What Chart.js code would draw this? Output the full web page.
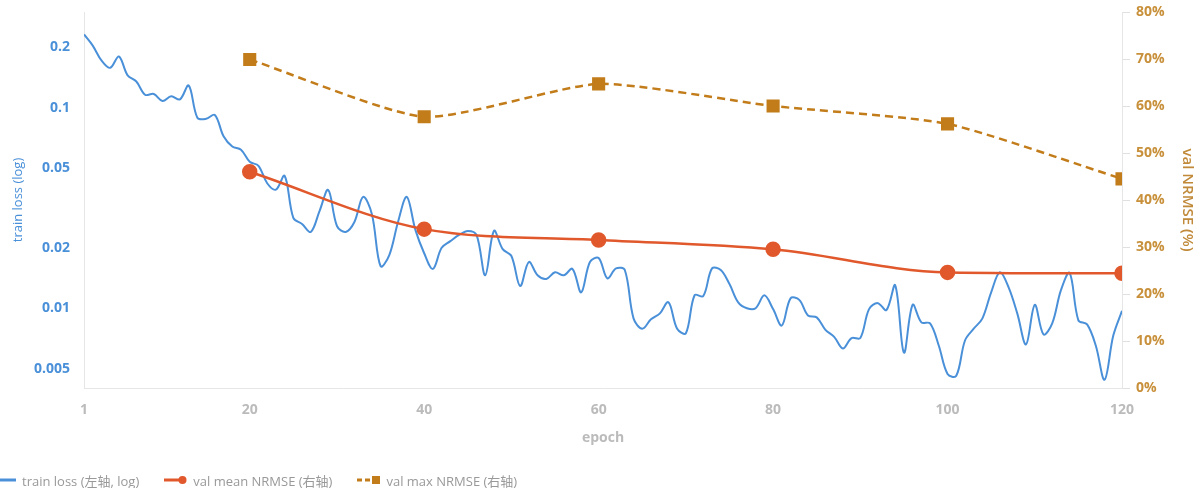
<!DOCTYPE html>
<html>
<head>
<meta charset="utf-8">
<script src="https://cdn.jsdelivr.net/npm/chart.js@4.4.1/dist/chart.umd.min.js"></script>
<style>
  html, body { margin: 0; padding: 0; background: #fff; overflow: hidden; }
  #wrap { position: relative; width: 1200px; height: 488px; }
  #legend {
    position: absolute; left: -7px; top: 470px; height: 20px;
    display: flex; align-items: center; white-space: nowrap;
    font: 13px "Open Sans", "Noto Sans CJK SC", sans-serif; color: #999;
  }
  #legend .item { display: flex; align-items: center; margin-right: 25px; }
  #legend svg { margin-right: 6px; }
</style>
</head>
<body>
<div id="wrap">
  <canvas id="chart" width="1200" height="488"></canvas>
  <div id="legend"></div>
</div>
<script>
(function () {
    "use strict";

    // train loss per epoch, epoch 1..120 (left axis, log)
    const trainLoss = [
        0.232, 0.204, 0.172, 0.158, 0.180, 0.145, 0.135, 0.116, 0.117, 0.108,
        0.114, 0.110, 0.129, 0.089, 0.088, 0.092, 0.072, 0.064, 0.0617, 0.0537,
        0.0513, 0.042, 0.039, 0.0457, 0.0282, 0.0263, 0.024, 0.0305, 0.0389, 0.0257,
        0.024, 0.0269, 0.0359, 0.0295, 0.0162, 0.0184, 0.0269, 0.0359, 0.0245, 0.0188,
        0.0157, 0.020, 0.0216, 0.0232, 0.0243, 0.0232, 0.0146, 0.0243, 0.0197, 0.0182,
        0.0129, 0.017, 0.0146, 0.014, 0.0151, 0.0146, 0.0157, 0.012, 0.017, 0.0178,
        0.0141, 0.0158, 0.0155, 0.0089, 0.0079, 0.0088, 0.0094, 0.0107, 0.0079, 0.0075,
        0.0116, 0.0115, 0.0158, 0.0155, 0.0132, 0.0107, 0.010, 0.010, 0.0116, 0.0099,
        0.0082, 0.0112, 0.011, 0.0092, 0.009, 0.0078, 0.0072, 0.0063, 0.0071, 0.0071,
        0.0099, 0.0106, 0.0098, 0.013, 0.006, 0.0104, 0.0085, 0.0084, 0.0065, 0.0047,
        0.0046, 0.0069, 0.0079, 0.0089, 0.012, 0.0151, 0.0127, 0.0094, 0.0066, 0.0104,
        0.0074, 0.0084, 0.0123, 0.015, 0.0087, 0.0083, 0.0065, 0.0044, 0.0073, 0.0097
    ];

    // validation every 20 epochs (right axis, %)
    const valEpochs = [20, 40, 60, 80, 100, 120];
    const valMean = [46.0, 33.8, 31.5, 29.5, 24.6, 24.4];
    const valMax = [69.9, 57.7, 64.7, 60.0, 56.2, 44.5];

    const xTicks = [1, 20, 40, 60, 80, 100, 120];
    const lossTicks = [0.005, 0.01, 0.02, 0.05, 0.1, 0.2];

    const BLUE = "#4A90D9";
    const RED = "#E0582B";
    const GOLD = "#C27C1A";
    const FONT = "'Open Sans', 'Noto Sans CJK SC', sans-serif";

    Chart.defaults.font.family = FONT;

    // keep tick-label overhang from pushing the plot area around
    const noPadV = (w) => (s) => { s.width = w; s.paddingTop = 0; s.paddingBottom = 0; };

    const ctx = document.getElementById("chart").getContext("2d");
    const chart = new Chart(ctx, {
        type: "line",
        data: {
            datasets: [
                {
                    label: "train loss (左轴, log)",
                    yAxisID: "y",
                    data: trainLoss.map((v, i) => ({ x: i + 1, y: v })),
                    borderColor: BLUE,
                    borderWidth: 2,
                    pointRadius: 0,
                    tension: 0.35,
                    order: 3,
                },
                {
                    label: "val mean NRMSE (右轴)",
                    yAxisID: "y1",
                    data: valEpochs.map((e, i) => ({ x: e, y: valMean[i] })),
                    borderColor: RED,
                    backgroundColor: RED,
                    borderWidth: 2.5,
                    pointStyle: "circle",
                    pointRadius: 6.5,
                    cubicInterpolationMode: "monotone",
                    order: 1,
                },
                {
                    label: "val max NRMSE (右轴)",
                    yAxisID: "y1",
                    data: valEpochs.map((e, i) => ({ x: e, y: valMax[i] })),
                    borderColor: GOLD,
                    backgroundColor: GOLD,
                    borderWidth: 2.5,
                    borderDash: [8, 5],
                    pointStyle: "rect",
                    pointRadius: 7.5,
                    tension: 0.2,
                    order: 2,
                },
            ],
        },
        options: {
            responsive: false,
            animation: false,
            layout: { padding: { top: 12, bottom: 38, left: 0, right: 0 } },
            plugins: {
                legend: { display: false },
                tooltip: { enabled: false },
            },
            scales: {
                x: {
                    type: "linear",
                    min: 1,
                    max: 120,
                    afterBuildTicks: (s) => { s.ticks = xTicks.map((v) => ({ value: v })); },
                    afterFit: (s) => { s.height = 62; s.paddingLeft = 0; s.paddingRight = 0; },
                    grid: { display: false, drawTicks: false },
                    border: { display: true, color: "#e6e6e6" },
                    ticks: {
                        color: "#bbbbbb",
                        font: { size: 14, weight: "bold" },
                        padding: 14,
                        maxRotation: 0,
                        autoSkip: false,
                    },
                    title: {
                        display: true,
                        text: "epoch",
                        color: "#bbbbbb",
                        font: { size: 14, weight: "bold" },
                        padding: { top: 6, bottom: 4 },
                    },
                },
                y: {
                    type: "logarithmic",
                    position: "left",
                    min: 0.004,
                    max: 0.3,
                    afterBuildTicks: (s) => { s.ticks = lossTicks.map((v) => ({ value: v })); },
                    afterFit: noPadV(84),
                    grid: { display: false, drawTicks: false },
                    border: { display: true, color: "#e6e6e6" },
                    ticks: {
                        callback: (v) => String(v),
                        color: BLUE,
                        font: { size: 14, weight: "bold" },
                        padding: 14,
                        autoSkip: false,
                    },
                    title: {
                        display: true,
                        text: "train loss (log)",
                        color: BLUE,
                        font: { size: 13 },
                        padding: { top: 10, bottom: 0 },
                    },
                },
                y1: {
                    type: "linear",
                    position: "right",
                    min: 0,
                    max: 80,
                    afterFit: noPadV(78),
                    grid: {
                        display: true,
                        drawOnChartArea: false,
                        drawTicks: true,
                        tickLength: 8,
                        color: "#e0e0e0",
                    },
                    border: { display: true, color: "#e6e6e6" },
                    ticks: {
                        stepSize: 10,
                        callback: (v) => v + "%",
                        color: "#C8903A",
                        font: { size: 14, weight: "bold" },
                        padding: 6,
                    },
                    title: {
                        display: true,
                        text: "val NRMSE (%)",
                        color: "#C08A3A",
                        font: { size: 15, weight: "600" },
                        padding: { top: 4, bottom: 0 },
                    },
                },
            },
        },
    });

    // legend in html, swatch = line (+ marker) like the dataset styles
    const swatch = (ds) => {
        const dash = ds.borderDash ? ' stroke-dasharray="5,3"' : "";
        let svg = '<svg width="23" height="10">';
        if (ds.pointStyle === "circle") {
            svg += `<line x1="0" y1="5" x2="15" y2="5" stroke="${ds.borderColor}" stroke-width="3"/>`;
            svg += `<circle cx="18.5" cy="5" r="4" fill="${ds.borderColor}"/>`;
        } else if (ds.pointStyle === "rect") {
            svg += `<line x1="0" y1="5" x2="14" y2="5" stroke="${ds.borderColor}" stroke-width="3"${dash}/>`;
            svg += `<rect x="15" y="1" width="8" height="8" fill="${ds.borderColor}"/>`;
        } else {
            svg += `<line x1="0" y1="5" x2="23" y2="5" stroke="${ds.borderColor}" stroke-width="3"/>`;
        }
        return svg + "</svg>";
    };

    document.getElementById("legend").innerHTML = chart.data.datasets
        .map((ds) => `<span class="item">${swatch(ds)}<span>${ds.label}</span></span>`)
        .join("");
})();
</script>
</body>
</html>
